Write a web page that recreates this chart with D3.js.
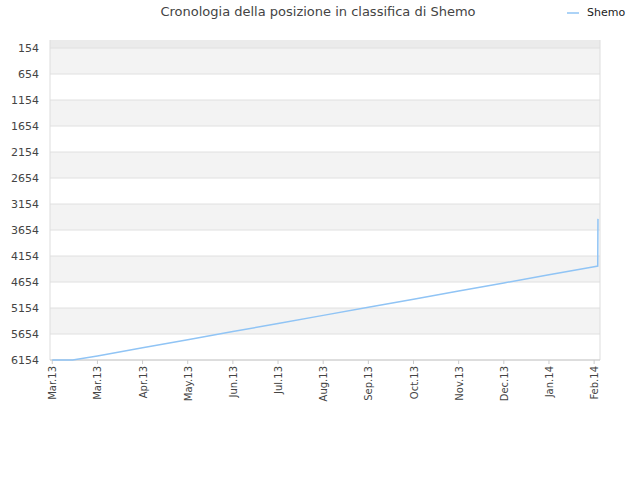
<!DOCTYPE html>
<html><head><meta charset="utf-8">
<script src="https://cdn.jsdelivr.net/npm/d3@7"></script>
<style>body{margin:0;background:#fff;font-family:"DejaVu Sans",sans-serif}</style>
</head><body>
<svg id="c" width="640" height="480"></svg>
<script>
const monthLabels = ["Mar.13","Mar.13","Apr.13","May.13","Jun.13","Jul.13","Aug.13","Sep.13","Oct.13","Nov.13","Dec.13","Jan.14","Feb.14"];
const yTicks = [154,654,1154,1654,2154,2654,3154,3654,4154,4654,5154,5654,6154];
const seriesX = [0, 0.45, 1, 2, 3, 4, 5, 6, 7, 8, 9, 10, 11, 12, 12.08, 12.085];
const seriesY = [6154, 6154, 6076, 5920, 5764, 5608, 5452, 5296, 5140, 4984, 4828, 4672, 4516, 4360, 4348, 3440];
const seriesName = "Shemo";

const svg = d3.select("#c");
const L=50,R=600,T=40,B=360;
const x = d3.scaleLinear().domain([-0.05,12.13]).range([L,R]);
const y = d3.scaleLinear().domain([0,6154]).range([T,B]);

svg.append("rect").attr("x",L).attr("y",T).attr("width",R-L).attr("height",y(154)-T).attr("fill","#ebebeb");
for(let i=0;i<yTicks.length-1;i++){
  svg.append("rect").attr("x",L).attr("y",y(yTicks[i])).attr("width",R-L)
    .attr("height",y(yTicks[i+1])-y(yTicks[i])).attr("fill",i%2===0?"#f3f3f3":"#ffffff");
}
yTicks.forEach(t=>{
  svg.append("line").attr("x1",L).attr("x2",R).attr("y1",y(t)).attr("y2",y(t)).attr("stroke","#e0e0e0");
  svg.append("text").attr("x",L-11).attr("y",y(t)+4).attr("text-anchor","end")
    .attr("font-size",11).attr("fill","#444").text(t);
});
svg.append("line").attr("x1",L).attr("x2",L).attr("y1",T).attr("y2",B).attr("stroke","#ddd");
svg.append("line").attr("x1",R).attr("x2",R).attr("y1",T).attr("y2",B).attr("stroke","#ddd");
svg.append("line").attr("x1",L).attr("x2",R).attr("y1",B).attr("y2",B).attr("stroke","#ccc");

monthLabels.forEach((m,i)=>{
  const xx = x(i);
  svg.append("line").attr("x1",xx).attr("x2",xx).attr("y1",B).attr("y2",B+4).attr("stroke","#ccc");
  svg.append("text").attr("transform",`translate(${xx+4},${B+6}) rotate(-90)`)
    .attr("text-anchor","end").attr("font-size",10).attr("fill","#444").text(m);
});

const pts = seriesX.map((v,i)=>[v,seriesY[i]]);
svg.append("path").datum(pts).attr("fill","none").attr("stroke","#90c4f5").attr("stroke-width",1.5)
  .attr("d",d3.line().x(d=>x(d[0])).y(d=>y(d[1])));

svg.append("text").attr("x",318).attr("y",16).attr("text-anchor","middle")
  .attr("font-size",13).attr("fill","#444").text("Cronologia della posizione in classifica di Shemo");
svg.append("line").attr("x1",567).attr("x2",579).attr("y1",13).attr("y2",13).attr("stroke","#90c4f5").attr("stroke-width",1.5);
svg.append("text").attr("x",587).attr("y",16).attr("font-size",11).attr("fill","#222").text(seriesName);
</script>
</body></html>
